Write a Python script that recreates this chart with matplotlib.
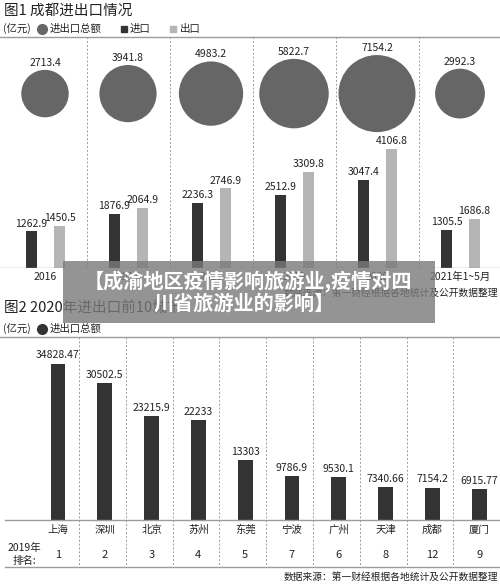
import numpy as np
import matplotlib
matplotlib.use('Agg')
import matplotlib.pyplot as plt
from matplotlib.patches import Rectangle
from matplotlib.lines import Line2D

plt.rcParams['font.family'] = ['Noto Sans CJK SC', 'DejaVu Sans']

# figure 1: Chengdu import / export (100 million yuan)
years = ['2016', '2017', '2018', '2019', '2020', '2021年1~5月']
totals = [2713.4, 3941.8, 4983.2, 5822.7, 7154.2, 2992.3]
imports = [1262.9, 1876.9, 2236.3, 2512.9, 3047.4, 1305.5]
exports = [1450.5, 2064.9, 2746.9, 3309.8, 4106.8, 1686.8]

# figure 2: top 10 cities in 2020
cities = ['上海', '深圳', '北京', '苏州', '东莞', '宁波', '广州', '天津', '成都', '厦门']
city_totals = [34828.47, 30502.5, 23215.9, 22233, 13303, 9786.9, 9530.1, 7340.66, 7154.2, 6915.77]
ranks_2019 = ['1', '2', '3', '4', '5', '7', '6', '8', '12', '9']

W, H = 500, 586
DARK = '#333333'
LIGHT = '#b5b5b5'
BUBBLE = '#666666'
GRID = '#9c9c9c'
TXT = '#222222'

fig = plt.figure(figsize=(W / 100, H / 100), dpi=100)


def fx(x):
    return x / W


def fy(y):
    return 1 - y / H


def px_axes(left, top, right, bottom):
    ax = fig.add_axes([fx(left), fy(bottom), (right - left) / W, (bottom - top) / H])
    ax.axis('off')
    return ax


def hline(y, x0=0, x1=W, **kw):
    fig.add_artist(Line2D([fx(x0), fx(x1)], [fy(y), fy(y)], transform=fig.transFigure,
                          color=GRID, lw=1, **kw))


def legend_row(y, items):
    fig.text(fx(3), fy(y), '(亿元)', fontsize=7.5, color=TXT, va='center')
    for mx, marker, ms, color, tx, label in items:
        fig.add_artist(Line2D([fx(mx)], [fy(y)], transform=fig.transFigure, marker=marker,
                              markersize=ms, color=color, lw=0))
        fig.text(fx(tx), fy(y), label, fontsize=7.5, color=TXT, va='center')


# ---- figure 1 ----
fig.text(fx(4), fy(11), '图1 成都进出口情况', fontsize=10.5, color=TXT, va='center')
legend_row(29, [(41.5, 'o', 7, BUBBLE, 50, '进出口总额'),
                (124, 's', 5, DARK, 130, '进口'),
                (173, 's', 5, LIGHT, 180, '出口')])
hline(37)

ax1 = px_axes(0, 37, 500, 268)
ax1.set_xlim(-45 / 83, 455 / 83)
ax1.set_ylim(0, 231 / 0.029)
x = np.arange(len(years))
ax1.bar(x - 0.163, imports, width=0.127, color=DARK)
ax1.bar(x + 0.175, exports, width=0.127, color=LIGHT)
for xi, v in zip(x, imports):
    ax1.annotate(str(v), (xi - 0.163, v), xytext=(0, 2), textcoords='offset points',
                 ha='center', va='bottom', fontsize=7.5, color=TXT)
for xi, v in zip(x, exports):
    ax1.annotate(str(v), (xi + 0.175, v), xytext=(0, 2), textcoords='offset points',
                 ha='center', va='bottom', fontsize=7.5, color=TXT)

# bubbles, area proportional to the total
bub_y = 0.755
sizes = 0.43 * np.array(totals)
tr = ax1.get_xaxis_transform()
ax1.scatter(x, [bub_y] * len(x), s=sizes, color=BUBBLE, transform=tr, clip_on=False,
            linewidths=0)
for xi, v, s in zip(x, totals, sizes):
    ax1.annotate(str(v), (xi, bub_y), xycoords=tr, xytext=(0, np.sqrt(s) / 2 + 1.5),
                 textcoords='offset points', ha='center', va='bottom', fontsize=7.5, color=TXT)

for i in range(len(years) - 1):
    ax1.axvline(i + 0.5, color=GRID, ls=(0, (2, 2)), lw=0.7)
ax1.axhline(0, color=GRID, lw=1)
for xi, lab in zip(x, years):
    ax1.text(xi, -0.04, lab, transform=tr, ha='center', va='center', fontsize=7.5, color=TXT)

fig.text(fx(498), fy(293), '数据来源：第一财经根据各地统计及公开数据整理', fontsize=7,
         color=TXT, ha='right', va='center')

# ---- figure 2 ----
fig.text(fx(4), fy(309), '图2 2020年进出口前10城市', fontsize=10.5, color=TXT, va='center')
legend_row(329, [(41.5, 'o', 7, DARK, 50, '进出口总额')])
hline(337)

ax2 = px_axes(0, 337, 500, 520)
ax2.set_xlim(-58 / 46.8, 442 / 46.8)
ax2.set_ylim(0, 183 / 0.00448)
x2 = np.arange(len(cities))
ax2.bar(x2, city_totals, width=0.32, color=DARK)
for xi, v in zip(x2, city_totals):
    ax2.annotate(str(v), (xi, v), xytext=(0, 2.5), textcoords='offset points',
                 ha='center', va='bottom', fontsize=7.5, color=TXT)
tr2 = ax2.get_xaxis_transform()
for i in range(len(cities) - 1):
    ax2.plot([i + 0.45, i + 0.45], [1, -47 / 183], transform=tr2, color=GRID,
             ls=(0, (2, 2)), lw=0.7, clip_on=False)
for xi, c, r in zip(x2, cities, ranks_2019):
    ax2.text(xi, -10 / 183, c, transform=tr2, ha='center', va='center', fontsize=7.5, color=TXT)
    ax2.text(xi, -35 / 183, r, transform=tr2, ha='center', va='center', fontsize=8, color=TXT)
hline(520, x0=5)
hline(567, x0=5)
fig.text(fx(24), fy(548), '2019年', fontsize=7.5, color=TXT, ha='center', va='center')
fig.text(fx(24), fy(561), '排名:', fontsize=7.5, color=TXT, ha='center', va='center')

fig.text(fx(498), fy(577), '数据来源：第一财经根据各地统计及公开数据整理', fontsize=7,
         color=TXT, ha='right', va='center')

# ---- overlay banner ----
fig.add_artist(Rectangle((fx(63), fy(323)), 372 / W, 62 / H, transform=fig.transFigure,
                         facecolor='#7a7a7a', alpha=0.8, lw=0, zorder=10))
fig.text(fx(248), fy(281), '【成渝地区疫情影响旅游业,疫情对四', fontsize=14.5,
         fontweight='bold', color='white', ha='center', va='center', zorder=11)
fig.text(fx(244), fy(303), '川省旅游业的影响】', fontsize=14.5,
         fontweight='bold', color='white', ha='center', va='center', zorder=11)

fig.savefig('out.png', dpi=100, facecolor='white')
